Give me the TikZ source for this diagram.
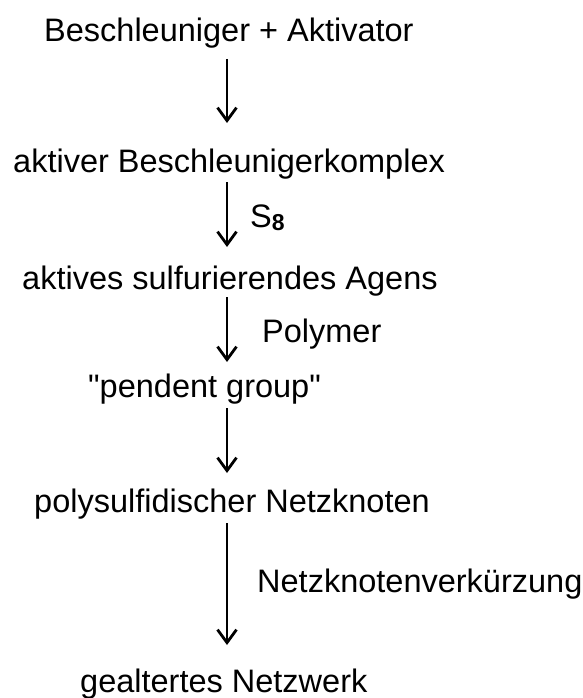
\documentclass[tikz,border=0pt]{standalone}
\usepackage{fontspec}
\setmainfont{Liberation Sans}
\usetikzlibrary{arrows.meta}
\begin{document}
\begin{tikzpicture}[x=1pt,y=-1pt,
  stage/.style={anchor=base west,inner sep=0pt,font=\fontsize{32.5}{39}\selectfont},
  reagent/.style={anchor=base west,inner sep=0pt,font=\fontsize{32.5}{39}\selectfont},
  flow/.style={line width=2.8pt,-{Straight Barb[length=13pt,width=19pt]}}]
\useasboundingbox (0,0) rectangle (582,698);
% reaction sequence
\node[stage] (t1) at (44,42) {Beschleuniger + Aktivator};
\node[stage] (t2) at (13,172) {aktiver Beschleunigerkomplex};
\node[stage] (t3) at (22,289) {aktives sulfurierendes Agens};
\node[stage] (t4) at (88,397) {\textquotedbl pendent group\textquotedbl};
\node[stage] (t5) at (34,512) {polysulfidischer Netzknoten};
\node[stage] (t6) at (80,692) {gealtertes Netzwerk};
% reagents and conditions beside the arrows
\node[reagent] (r1) at (250,227) {S\raisebox{-0.22ex}{\fontsize{23}{23}\selectfont\bfseries 8}};
\node[reagent] (r2) at (262,342) {Polymer};
\node[reagent] (r3) at (257,592) {Netzknotenverkürzung};
% vertical arrows
\coordinate (ax) at (227,0);
\draw[flow,shorten <=17pt,shorten >=49pt] (t1.base -| ax) -- (t2.base -| ax);
\draw[flow,shorten <=10pt,shorten >=42pt] (t2.base -| ax) -- (t3.base -| ax);
\draw[flow,shorten <=8pt,shorten >=35pt] (t3.base -| ax) -- (t4.base -| ax);
\draw[flow,shorten <=11pt,shorten >=39pt] (t4.base -| ax) -- (t5.base -| ax);
\draw[flow,shorten <=11pt,shorten >=47pt] (t5.base -| ax) -- (t6.base -| ax);
\end{tikzpicture}
\end{document}
